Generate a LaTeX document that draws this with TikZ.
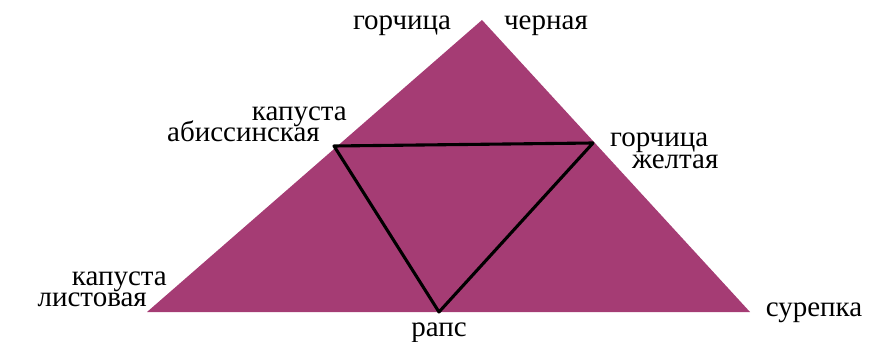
\documentclass[tikz,border=0pt]{standalone}
\usepackage{fontspec}
\setmainfont{Liberation Serif}

\definecolor{rapsmag}{RGB}{165,60,116}
\newcommand\letrarotulo{\fontsize{29}{21}\selectfont\lineskiplimit=-40pt\relax}

\tikzset{
  rotulo/.style={font=\letrarotulo, inner sep=0pt, anchor=base},
  aresta/.style={line width=3.1pt, black, line join=round}
}

\begin{document}
\begin{tikzpicture}[x=1pt,y=-1pt]

\useasboundingbox (0,0) rectangle (873,342);

% TRIANGULO EXTERNO
\coordinate (topo) at (482,20);
\coordinate (esq) at (147,312);
\coordinate (dir) at (750,312);
\fill[rapsmag] (topo) -- (esq) -- (dir) -- cycle;

% TRIANGULO INTERNO
\coordinate (meioesq) at (334,146);
\coordinate (meiodir) at (593,143);
\coordinate (base) at (439,312);
\draw[aresta] (meioesq) -- (meiodir) -- (base) -- cycle;

% ROTULOS
\node[rotulo] (gorchA) at (402,30) {горчица};
\node[rotulo] (chern) at (546,30) {черная};

\node[rotulo, align=right, anchor=base east] (kapA) at (347,142)
  {капуста\\абиссинская\hspace*{27pt}};

\node[rotulo, align=left, anchor=base west] (gorchB) at (610,168)
  {горчица\\\hspace*{22pt}желтая};

\node[rotulo, align=right, anchor=base east] (kapB) at (167,306)
  {капуста\\листовая\hspace*{20pt}};

\node[rotulo] (raps) at (439,336) {рапс};
\node[rotulo] (surep) at (814,316) {сурепка};

\end{tikzpicture}
\end{document}
